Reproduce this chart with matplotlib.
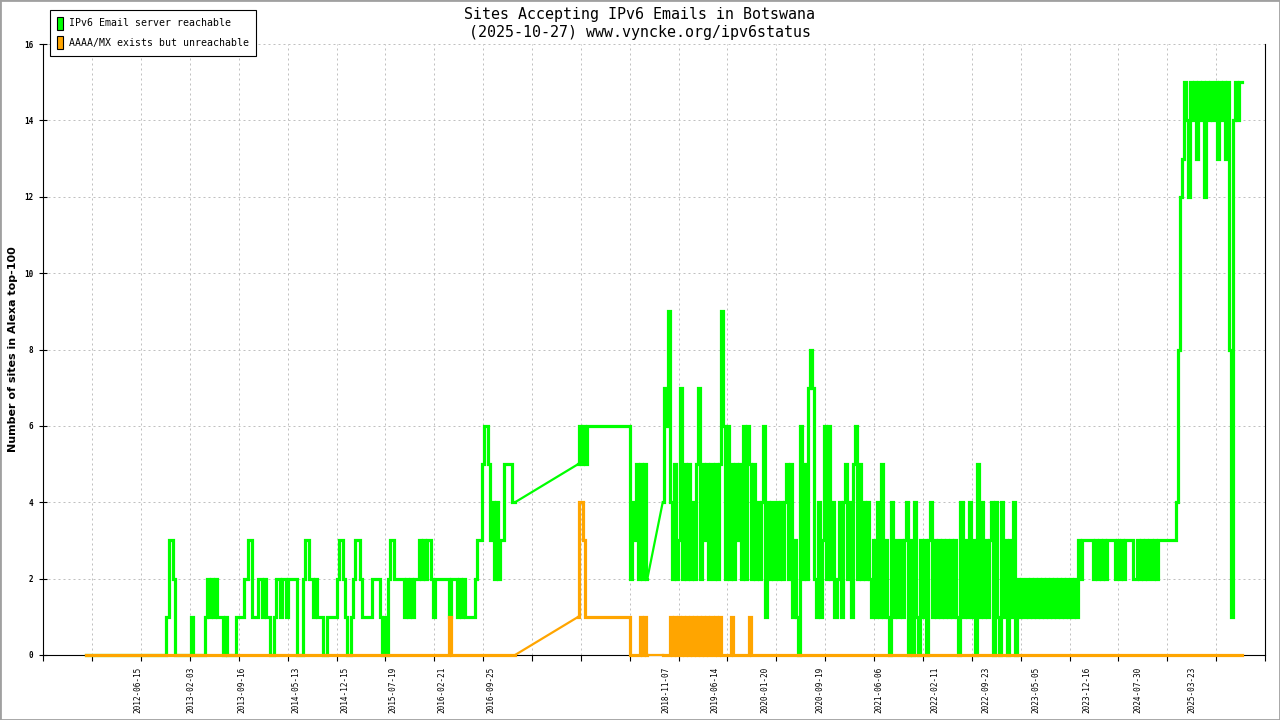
import numpy as np
import matplotlib
matplotlib.use("Agg")
import matplotlib.pyplot as plt
import matplotlib.dates as mdates
import matplotlib.transforms as mtransforms
from matplotlib.patches import Patch, Rectangle

# samples every step_days, one hex char per sample (= number of sites)
step_days = 9
seg_starts = ["2011-10-28", "2017-10-15", "2018-10-24"]

green_a = ("0000000000" "0000000000" "0000000000" "0000000000"
           "1332000000" "0010000001" "2121211101" "0000111122"
           "3311122121" "1001221221" "2222000233" "2212111001"
           "1111233210" "0123321111" "1222210102" "3322222121"
           "2122323233" "2122222221" "2221212111" "1123356653"
           "4242335555" "44")
orange_a = ("00000000000000000000000000000000000000000000000000"
            "00000000000000000000000000000000000000000000000000"
            "00000000000000000000000000000000000000000000000000"
            "00000000000000000000000000000" "1"
            "00000000000000000000000000000000")

green_b = "56565" "666666666666666666666" "243525252"
orange_b = "14431" "111111111111111111111" "00000" "1010"

green_c = ("4769425237" "2525242572" "5352525259" "6262525352"
           "6265252424" "6142424242" "4525131062" "5278721413"
           "6262412414" "5241562524" "2421314151" "3104131313"
           "4030410313" "0341313131" "3131310413" "1413051413"
           "1340410413" "0314021212" "1212121212" "1212121212"
           "1212132333" "3323232323" "3332323233" "3322323232"
           "3232333333" "33348cdfec" "fefdfefcfe" "fefdfefdf8"
           "1efeff")
orange_c = ("0000101010" "1010101010" "1010101010" "0000100000"
            "0001000000"
            "00000000000000000000000000000000000000000000000000"
            "00000000000000000000000000000000000000000000000000"
            "00000000000000000000000000000000000000000000000000"
            "00000000000000000000000000000000000000000000000000"
            "000000000000000000000000000000000000")

label_dates = ["2012-06-15", "2013-02-03", "2013-09-16", "2014-05-13",
               "2014-12-15", "2015-07-19", "2016-02-21", "2016-09-25",
               "2018-11-07", "2019-06-14", "2020-01-20", "2020-09-19",
               "2021-06-06", "2022-02-11", "2022-09-23", "2023-05-05",
               "2023-12-16", "2024-07-30", "2025-03-23"]
x_range = ["2011-04-21", "2026-02-11"]
y_ticks = [0, 2, 4, 6, 8, 10, 12, 14, 16]

title = "Sites Accepting IPv6 Emails in Botswana"
subtitle = "(2025-10-27) www.vyncke.org/ipv6status"
names = ["IPv6 Email server reachable", "AAAA/MX exists but unreachable"]

green = "#00ff00"
orange = "#ffa500"
mono = "DejaVu Sans Mono"


def parse(s):
    return np.array([int(c, 16) for c in s], dtype=float)


segments = []
for start, g, o in zip(seg_starts, [green_a, green_b, green_c],
                       [orange_a, orange_b, orange_c]):
    d = np.datetime64(start) + np.arange(len(g)) * np.timedelta64(step_days, "D")
    segments.append((mdates.date2num(d), parse(g), parse(o)))

fig = plt.figure(figsize=(12.8, 7.2), dpi=100)
ax = fig.add_axes([43.3 / 1280, 65 / 720, (1265 - 43.3) / 1280, 611 / 720])

for k, (x, g, o) in enumerate(segments):
    ax.plot(x, g, color=green, lw=2.3, drawstyle="steps-mid",
            solid_joinstyle="miter", zorder=3, clip_on=False)
    ax.plot(x, o, color=orange, lw=2.3, drawstyle="steps-mid",
            solid_joinstyle="miter", zorder=4, clip_on=False)
    if k > 0:
        xp, gp, op = segments[k - 1]
        ax.plot([xp[-1], x[0]], [gp[-1], g[0]], color=green, lw=1.6,
                zorder=3, clip_on=False)
        ax.plot([xp[-1], x[0]], [op[-1], o[0]], color=orange, lw=1.6,
                zorder=4, clip_on=False)

x0, x1 = mdates.date2num(np.array(x_range, dtype="datetime64[D]"))
ax.set_xlim(x0, x1)
ax.set_ylim(0, 16)
ax.set_xticks(np.linspace(x0, x1, 26))
ax.set_xticklabels([])
ax.set_yticks(y_ticks)
ax.set_yticklabels([str(v) for v in y_ticks], family=mono, weight="bold",
                   fontsize=5.5)
ax.tick_params(axis="x", direction="out", length=4, width=0.8)
ax.tick_params(axis="y", direction="inout", length=6, width=0.8, pad=4)

ax.set_axisbelow(True)
ax.grid(True, color="#c0c0c0", linestyle=(0, (2, 3)), lw=0.72)
ax.spines["top"].set_visible(False)
for s in ["left", "bottom", "right"]:
    ax.spines[s].set_linewidth(0.8)

trans = mtransforms.blended_transform_factory(ax.transData, ax.transAxes)
for lab in label_dates:
    xd = mdates.date2num(np.datetime64(lab))
    ax.text(xd, -12 / 611, lab, transform=trans, rotation=90, ha="center",
            va="top", family=mono, fontsize=5.6)

fig.text(0.5, 1 - 14 / 720, title, ha="center", va="center", family=mono,
         fontsize=10.8)
fig.text(0.5, 1 - 32 / 720, subtitle, ha="center", va="center", family=mono,
         fontsize=10.8)
fig.text(13 / 1280, 1 - 349 / 720, "Number of sites in Alexa top-100",
         rotation=90, ha="center", va="center", weight="bold", fontsize=8)

handles = [Patch(facecolor=green, edgecolor="black", lw=0.8),
           Patch(facecolor=orange, edgecolor="black", lw=0.8)]
leg = fig.legend(handles, names, loc="upper left",
                 bbox_to_anchor=(50 / 1280, 1 - 10 / 720),
                 prop={"family": mono, "size": 7.1}, fancybox=False,
                 edgecolor="black", framealpha=1, borderpad=0.7,
                 handlelength=0.65, handleheight=1.6, handletextpad=0.55,
                 labelspacing=0.65, borderaxespad=0)
leg.get_frame().set_linewidth(0.8)

fig.patches.append(Rectangle((0, 0), 1, 1, transform=fig.transFigure,
                             fill=False, edgecolor="#a0a0a0", lw=2))

fig.savefig("out.png", dpi=100)
